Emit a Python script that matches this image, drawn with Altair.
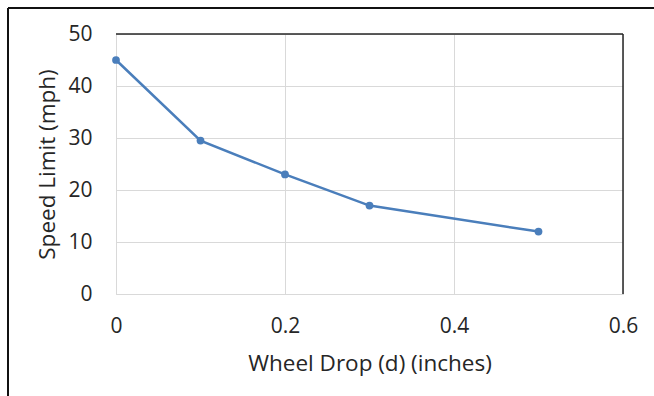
import altair as alt
import pandas as pd

wheel_drop = [0, 0.1, 0.2, 0.3, 0.5]
speed_limit = [45, 29.5, 23, 17, 12]
x_ticks = [0, 0.2, 0.4, 0.6]
y_ticks = [0, 10, 20, 30, 40, 50]

df = pd.DataFrame({"d": wheel_drop, "s": speed_limit})

FONT = "Open Sans"
LINE = "#4a7ebb"
W, H = 507, 260

x_enc = alt.X(
    "d:Q",
    scale=alt.Scale(domain=[0, 0.6], nice=False, zero=False),
    axis=alt.Axis(
        values=x_ticks, format="~g", title="Wheel Drop (d) (inches)",
        labelPadding=21, labelFlush=False, titleX=W / 2, titleY=69,
        titleBaseline="middle", titleAlign="center",
    ),
)
y_enc = alt.Y(
    "s:Q",
    scale=alt.Scale(domain=[0, 50], nice=False),
    axis=alt.Axis(
        values=y_ticks, format="d", title="Speed Limit (mph)",
        labelPadding=24, labelFlush=False, titleX=-69, titleY=H / 2,
        titleAngle=270, titleAlign="center", titleBaseline="middle",
    ),
)

line = alt.Chart(df).mark_line(color=LINE, strokeWidth=2.5).encode(x=x_enc, y=y_enc)
pts = alt.Chart(df).mark_point(filled=True, color=LINE, size=60, opacity=1).encode(
    x="d:Q", y="s:Q"
)

dummy = pd.DataFrame({"a": [0]})
top_border = alt.Chart(dummy).mark_rule(color="#262626", strokeWidth=1.5).encode(
    x=alt.value(0), x2=alt.value(W), y=alt.value(0)
)
right_border = alt.Chart(dummy).mark_rule(color="#262626", strokeWidth=1.5).encode(
    x=alt.value(W), y=alt.value(0), y2=alt.value(H)
)
outer_left = alt.Chart(dummy).mark_rule(color="#111111", strokeWidth=2).encode(
    x=alt.value(-108), y=alt.value(-26), y2=alt.value(400)
)
outer_top = alt.Chart(dummy).mark_rule(color="#111111", strokeWidth=2).encode(
    x=alt.value(-108), x2=alt.value(600), y=alt.value(-26)
)

chart = (
    alt.layer(line, pts, top_border, right_border, outer_left, outer_top)
    .properties(
        width=W, height=H,
        autosize=alt.AutoSizeParams(type="none"),
        padding={"left": 116, "top": 34, "right": 31, "bottom": 102},
        background="white",
    )
    .configure_view(stroke=None)
    .configure_axis(
        labelFont=FONT, titleFont=FONT, labelFontSize=21, titleFontSize=22.5,
        labelColor="#262626", titleColor="#262626", titleFontWeight="normal",
        grid=True, gridColor="#d9d9d9", gridWidth=1,
        domainColor="#d9d9d9", domainWidth=1, ticks=False,
    )
)

chart.save("out.html", embed_options={"renderer": "svg", "actions": False})
